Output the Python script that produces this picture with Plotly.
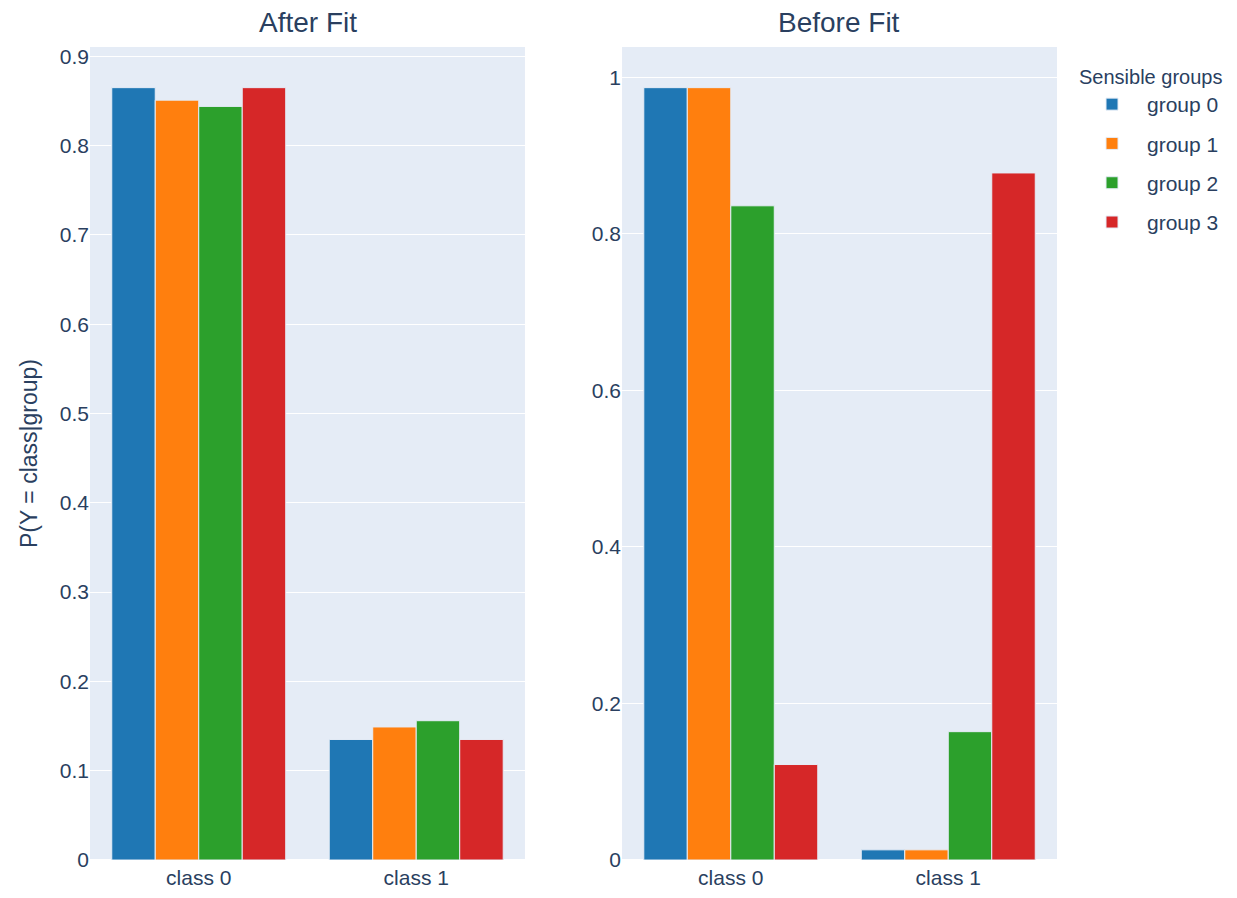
import plotly.graph_objects as go
from plotly.subplots import make_subplots

classes = ["class 0", "class 1"]
groups = ["group 0", "group 1", "group 2", "group 3"]
colors = ["#1f77b4", "#ff7f0e", "#2ca02c", "#d62728"]

after_fit = {
    "group 0": [0.865, 0.135],
    "group 1": [0.851, 0.149],
    "group 2": [0.844, 0.156],
    "group 3": [0.865, 0.135],
}
before_fit = {
    "group 0": [0.987, 0.013],
    "group 1": [0.987, 0.013],
    "group 2": [0.836, 0.164],
    "group 3": [0.122, 0.878],
}

FONT = "Liberation Sans, Arial, sans-serif"
TXT = "#2a3f5f"

fig = make_subplots(rows=1, cols=2, subplot_titles=("After Fit", "Before Fit"),
                    horizontal_spacing=0.1)

for g, c in zip(groups, colors):
    fig.add_trace(go.Bar(x=classes, y=after_fit[g], name=g, marker_color=c,
                         marker_line=dict(color="#E5ECF6", width=1),
                         legendgroup=g, showlegend=False), row=1, col=1)
    fig.add_trace(go.Bar(x=classes, y=before_fit[g], name=g, marker_color=c,
                         marker_line=dict(color="#E5ECF6", width=1),
                         legendgroup=g, showlegend=True), row=1, col=2)

fig.update_layout(
    width=1221, height=882,
    barmode="group",
    font=dict(family=FONT, size=21, color=TXT),
    margin=dict(l=82, r=172, t=39, b=30, autoexpand=False),
    legend=dict(title=dict(text="Sensible groups", font=dict(family=FONT, size=20, color=TXT)),
                x=1.0207, y=0.9865, xanchor="left", yanchor="top",
                font=dict(family=FONT, size=21, color=TXT),
                tracegroupgap=9, itemwidth=60),
)
fig.update_annotations(font=dict(family=FONT, size=28, color=TXT), yshift=7)
fig.update_xaxes(domain=[0, 0.4498], row=1, col=1)
fig.update_xaxes(domain=[0.5502, 1.0], row=1, col=2)
fig.update_xaxes(tickfont=dict(size=21), ticklabelstandoff=3, automargin=False)
fig.update_yaxes(tickfont=dict(size=21), automargin=False)
fig.update_yaxes(title=dict(text="P(Y = class|group)", font=dict(size=23)), row=1, col=1)
fig.update_yaxes(dtick=0.2, row=1, col=2)

fig.write_html("out.html")
